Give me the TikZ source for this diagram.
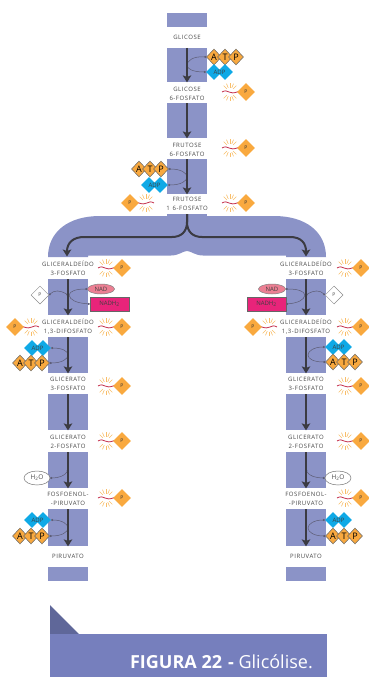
\documentclass[tikz,border=0pt]{standalone}
\usepackage{fontspec}
\setmainfont{Open Sans}
\newfontfamily\rotulofont[LetterSpace=9]{Open Sans}
\usetikzlibrary{arrows.meta,shapes.geometric}

\definecolor{azulbloco}{HTML}{8B93C7}
\definecolor{azullegenda}{HTML}{767FBD}
\definecolor{azulcanto}{HTML}{5F6799}
\definecolor{laranja}{HTML}{F9A93F}
\definecolor{raio}{HTML}{F8BE6A}
\definecolor{onda}{HTML}{C4304C}
\definecolor{ciano}{HTML}{0FA9E6}
\definecolor{rosa}{HTML}{EC7F93}
\definecolor{magenta}{HTML}{E8247A}
\definecolor{escuro}{HTML}{3B3B42}
\definecolor{cinza}{HTML}{5C5C74}

\tikzset{
  bloco/.style={fill=azulbloco, minimum width=40, inner sep=0, anchor=north},
  fluxo/.style={draw=escuro, line width=2pt, -{Stealth[length=7pt,width=8.5pt,inset=1.5pt]}},
  curva/.style={draw=cinza, line width=0.5pt, {Circle[length=2pt]}-{Circle[length=2pt]}},
  rotulo/.style={text=black!72, align=center, inner sep=0, font=\rotulofont\fontsize{6}{9}\selectfont},
  atpbase/.style={diamond, shape aspect=1, draw=black!60, line width=0.5pt, fill=laranja, minimum width=15, minimum height=16, inner sep=0, font=\fontsize{9}{9}\selectfont},
  adpbase/.style={diamond, shape aspect=1, fill=ciano, minimum width=16, minimum height=16, inner sep=0},
  fosfo/.style={diamond, shape aspect=1, fill=laranja, minimum width=18, minimum height=18, inner sep=0, text=black!80, font=\fontsize{5}{5}\selectfont},
  fosfobranco/.style={diamond, shape aspect=1, draw=black!45, line width=0.5pt, fill=white, minimum width=18, minimum height=18, inner sep=0, text=black!70, font=\fontsize{5}{5}\selectfont},
  agua/.style={ellipse, draw=black!55, line width=0.5pt, fill=white, minimum width=26, minimum height=14, inner sep=0, text=black!70, font=\fontsize{6.5}{7}\selectfont},
  nad/.style={ellipse, draw=black!50, line width=0.5pt, fill=rosa, minimum width=27, minimum height=10, inner sep=0, text=black!75, font=\fontsize{6}{6}\selectfont},
  nadh/.style={rectangle, draw=black!60, line width=0.5pt, fill=magenta, minimum width=39, minimum height=14, inner sep=0, text=black!75, font=\fontsize{6}{6}\selectfont},
}

% atp : nom, x, y
\newcommand{\atp}[3]{
  \node (#1a) at (#2,#3) [atpbase] {A};
  \node (#1b) at (#2+11,#3) [atpbase] {T};
  \node (#1c) at (#2+22,#3) [atpbase] {P};
}
% adp : nom, x, y
\newcommand{\adp}[3]{
  \node (#1a) at (#2,#3) [adpbase] {};
  \node (#1b) at (#2+11,#3) [adpbase] {};
  \node (#1t) at (#2+5.5,#3) [text=black!75, inner sep=0, font=\fontsize{6}{6}\selectfont] {ADP};
}
% fosfate : nom, x, y, sens
\newcommand{\fosfate}[4]{
  \begin{scope}[shift={(#2,#3)}, xscale=#4]
    \foreach \ang in {45,67,90,113,135} {
      \draw[raio, line width=0.6pt] (-16,0)++(\ang:4.5) -- ++(\ang:4.5);
      \draw[raio, line width=0.6pt] (-16,0)++(-\ang:4.5) -- ++(-\ang:4.5);
    }
    \draw[onda, line width=0.8pt] (-24,0) .. controls (-21,-1.8) and (-19,-1.2) .. (-17,0) .. controls (-15,1.3) and (-12,1.2) .. (-8,-0.3);
    \node (#1) at (0,0) [fosfo] {P};
  \end{scope}
}

\begin{document}
\begin{tikzpicture}[x=1pt,y=-1pt]
  \useasboundingbox (0,0) rectangle (368,677);

  %blocs du centre
  \foreach \n/\ytop/\alt in {1/13/14, 2/48/34, 3/103/35, 4/159/35, 5/214/4} {
    \node (c\n) at (187,\ytop) [bloco, minimum height=\alt] {};
  }
  %grand arc
  \fill[azulbloco] (48,257) .. controls (48,232) and (68,216) .. (100,216) -- (274,216)
    .. controls (306,216) and (326,232) .. (326,257) -- (286,257) -- (286,255.5) -- (203,255.5)
    .. controls (195,255.5) and (191,251) .. (187,251) .. controls (183,251) and (179,255.5) .. (171,255.5)
    -- (88,255.5) -- (88,257) -- cycle;
  %blocs des colonnes
  \foreach \col in {68,306} {
    \foreach \n/\ytop/\alt in {1/279/36, 2/337/36, 3/394/36, 4/452/36, 5/509/37, 6/567/14} {
      \node (b\col-\n) at (\col,\ytop) [bloco, minimum height=\alt] {};
    }
  }

  %textes du centre
  \node (glicose) at (187,37) [rotulo] {GLICOSE};
  \node (glicoseb) at (187,94) [rotulo] {GLICOSE\\6-FOSFATO};
  \node (frutose) at (187,149.5) [rotulo] {FRUTOSE\\6-FOSFATO};
  \node (frutoseb) at (187,204) [rotulo] {FRUTOSE\\1\,\,\,6-FOSFATO};
  %textes des colonnes
  \foreach \col in {68,306} {
    \node (gal\col) at (\col,268.5) [rotulo] {GLICERALDE\'IDO\\3-FOSFATO};
    \node (gdp\col) at (\col,326.5) [rotulo] {GLICERALDE\'IDO\\1,3-DIFOSFATO};
    \node (gta\col) at (\col,384) [rotulo] {GLICERATO\\3-FOSFATO};
    \node (gtb\col) at (\col,441.5) [rotulo] {GLICERATO\\2-FOSFATO};
    \node (fos\col) at (\col,499) [rotulo] {FOSFOENOL-\\-PIRUVATO};
    \node (pir\col) at (\col,556) [rotulo] {PIRUVATO};
  }

  %phosphates
  \fosfate{pa}{246}{92}{1}
  \fosfate{pb}{246}{148}{1}
  \fosfate{pc}{246}{203}{1}
  \fosfate{pd}{130}{203}{-1}
  \foreach \y in {268,327,386,441,498} {
    \fosfate{pl\y}{122}{\y}{1}
    \fosfate{pr\y}{361}{\y}{1}
  }
  \fosfate{pe}{15}{327}{-1}
  \fosfate{pf}{253}{327}{-1}

  %atp et adp
  \atp{atpa}{214}{57}
  \adp{adpa}{214}{72}
  \atp{atpb}{139}{169}
  \adp{adpb}{149}{185}
  \adp{adpc}{32}{348}
  \atp{atpc}{20}{363}
  \adp{adpd}{333}{347}
  \atp{atpd}{333}{362}
  \adp{adpe}{32}{520}
  \atp{atpe}{20}{536}
  \adp{adpf}{333}{520}
  \atp{atpf}{333}{536}

  %nad et eau
  \node (nadl) at (101,289) [nad] {NAD};
  \node (nadhl) at (109.5,304) [nadh] {NADH\textsubscript{2}};
  \node (nadr) at (272,289) [nad] {NAD};
  \node (nadhr) at (266.5,304) [nadh] {NADH\textsubscript{2}};
  \node (pbl) at (40,295) [fosfobranco] {P};
  \node (pbr) at (334,295) [fosfobranco] {P};
  \node (agl) at (37,478) [agua] {H\textsubscript{2}O};
  \node (agr) at (338,478) [agua] {H\textsubscript{2}O};
  \coordinate (ml) at (68,295);
  \coordinate (mr) at (306,295);
  \coordinate (hl) at (68,470);
  \coordinate (hr) at (306,470);

  %petites courbes
  \draw[curva] (atpaa.west) .. controls (193,56) and (187,61) .. (187,65) .. controls (187,69) and (193,72) .. (adpaa.west);
  \draw[curva] (atpbc.east) .. controls (181,169) and (187,173) .. (187,177) .. controls (187,181) and (181,185) .. (adpbb.east);
  \draw[curva] (adpcb.east) .. controls (62,348) and (68,351) .. (68,355) .. controls (68,359) and (62,363) .. (atpcc.east);
  \draw[curva] (adpda.west) .. controls (314,347) and (308,351) .. (308,355) .. controls (308,359) and (314,362) .. (atpda.west);
  \draw[curva] (adpeb.east) .. controls (62,520) and (68,524) .. (68,528) .. controls (68,532) and (62,536) .. (atpec.east);
  \draw[curva] (adpfa.west) .. controls (314,520) and (308,524) .. (308,528) .. controls (308,532) and (314,536) .. (atpfa.west);
  \draw[curva] (nadl.west) .. controls (76,289) and (70,291) .. (69,295) .. controls (70,300) and (76,303) .. (nadhl.west);
  \draw[curva] (nadr.east) .. controls (298,289) and (304,291) .. (305,295) .. controls (304,300) and (298,303) .. (nadhr.east);
  \draw[curva] (pbl.east) .. controls (54,290) and (60,290) .. (ml);
  \draw[curva] (pbr.west) .. controls (320,290) and (314,290) .. (mr);
  \draw[curva] (agl.east) .. controls (58,478) and (65,476) .. (hl);
  \draw[curva] (agr.west) .. controls (316,478) and (309,476) .. (hr);

  %fleches
  \draw[fluxo] (c2.north) -- (c2.south);
  \draw[fluxo] (c3.north) -- (c3.south);
  \draw[fluxo] (c4.north) -- (c4.south);
  \coordinate (sepl) at (67,256.5);
  \coordinate (sepr) at (306,256.5);
  \draw[fluxo] (c5.north) -- (187,222) .. controls (187,232) and (181,237) .. (172,237) -- (84,237) .. controls (73,237) and (67,243) .. (sepl);
  \draw[fluxo] (c5.north) -- (187,222) .. controls (187,232) and (193,237) .. (202,237) -- (290,237) .. controls (301,237) and (306,243) .. (sepr);
  \foreach \col in {68,306} {
    \foreach \n in {1,...,5} {
      \draw[fluxo] (b\col-\n.north) -- (b\col-\n.south);
    }
  }

  %legende
  \fill[azulcanto] (50,605) -- (50,634) -- (79,634) -- cycle;
  \node (faixa) at (50,634) [fill=azullegenda, anchor=north west, minimum width=277, minimum height=43, inner sep=0] {};
  \node (legenda) at (313,668) [anchor=base east, inner sep=0, text=white, font=\fontsize{18}{18}\selectfont] {\textbf{FIGURA 22}\,\,\textbf{-} Glic\'olise.};
\end{tikzpicture}
\end{document}
